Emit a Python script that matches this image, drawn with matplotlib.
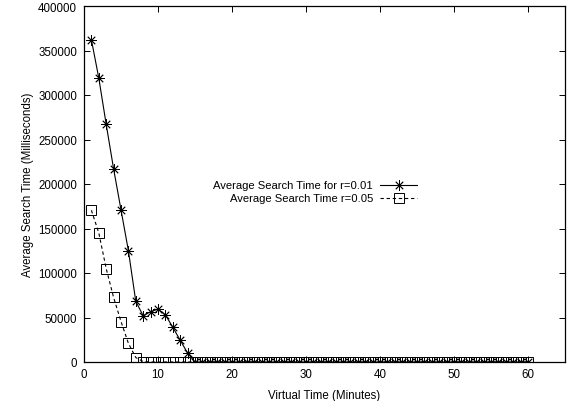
import matplotlib
matplotlib.use("Agg")
import matplotlib.pyplot as plt
from matplotlib.lines import Line2D

plt.rcParams['font.family'] = ['Liberation Sans', 'DejaVu Sans']
plt.rcParams['font.size'] = 8.3

# virtual time in minutes
minutes = list(range(1, 61))

# r=0.01 (stars)
search_r001 = [362000, 319000, 267000, 217000, 171000, 125000, 68000, 52000,
               56500, 59500, 53000, 39000, 24500, 10000] + [0] * 46
# r=0.05 (squares)
search_r005 = [170500, 145000, 105000, 72500, 45500, 21000, 5000, 500] + [0] * 52

labels = ["Average Search Time for r=0.01", "Average Search Time r=0.05"]

fig = plt.figure(figsize=(5.69, 4.02), dpi=100)
ax = fig.add_axes([84 / 569, 39 / 402, 481 / 569, 356 / 402])

star = (8, 2, 0)
dash = (0, (3, 2.5))
ax.plot(minutes, search_r001, color='black', lw=0.8, marker=star, ms=7.5, mew=0.6)
ax.plot(minutes, search_r005, color='black', lw=0.8, ls=dash,
        marker='s', ms=7, mfc='none', mew=0.7)

ax.set_xlim(0, 65)
ax.set_ylim(0, 400000)
ax.set_xticks(range(0, 61, 10))
ax.set_yticks(range(0, 400001, 50000))
ax.tick_params(direction='in', top=True, right=True, length=4, width=0.7)
ax.tick_params(axis='y', pad=5)
ax.tick_params(axis='x', pad=4.5)
for s in ax.spines.values():
    s.set_linewidth(0.9)

ax.set_xlabel("Virtual Time (Minutes)", labelpad=6)
ax.set_ylabel("Average Search Time (Milliseconds)", labelpad=3)

# gnuplot-style key: right-aligned text, sample to the right
rows = [0.497, 0.461]
styles = [dict(ls='-', marker=star, ms=7.5, mew=0.6, mfc='black'),
          dict(ls=dash, marker='s', ms=7, mew=0.7, mfc='none')]
for lab, yy, st in zip(labels, rows, styles):
    ax.text(0.601, yy, lab, transform=ax.transAxes, ha='right', va='center',
            fontsize=8.1)
    ax.add_line(Line2D([0.615, 0.692], [yy, yy], transform=ax.transAxes,
                       color='black', lw=0.8, ls=st['ls']))
    ax.add_line(Line2D([0.654], [yy], transform=ax.transAxes, color='black',
                       ls='none', marker=st['marker'], ms=st['ms'],
                       mew=st['mew'], mfc=st['mfc']))

fig.savefig("out.png", dpi=100)
